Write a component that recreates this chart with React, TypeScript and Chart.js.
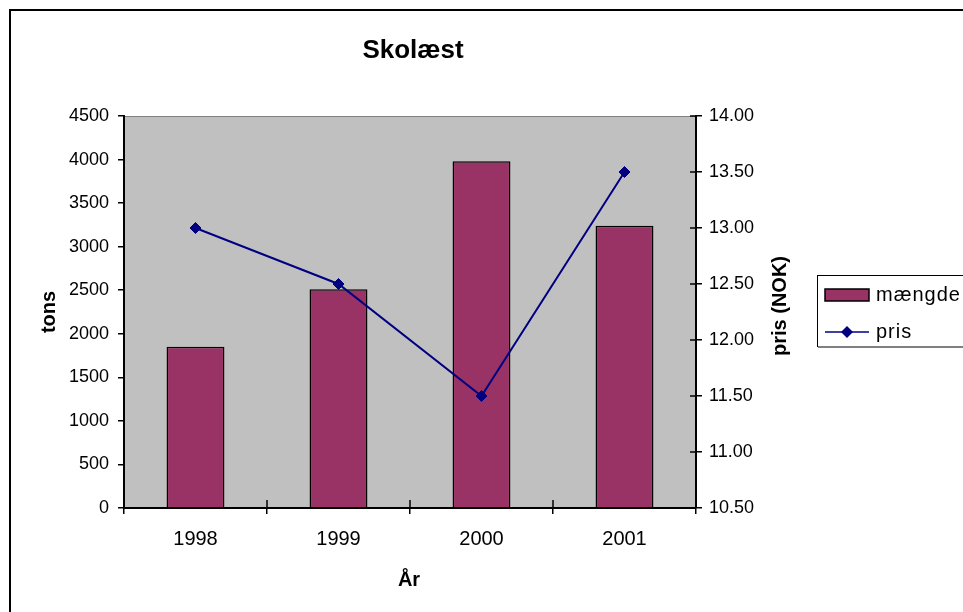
import React, { useEffect, useRef } from "react";
import { Chart, registerables } from "chart.js";

Chart.register(...registerables);

const years = ["1998", "1999", "2000", "2001"];
const maengde = [1850, 2510, 3980, 3240];
const pris = [13.0, 12.5, 11.5, 13.5];
const titleText = "Skolæst";
const xTitle = "År";
const yLeftTitle = "tons";
const yRightTitle = "pris (NOK)";
const legendLabels = ["mængde", "pris"];

const BAR = "#993366";
const LINE = "#000080";
const FONT = "'Liberation Sans', Arial, sans-serif";

const decorPlugin = {
  id: "decor",
  beforeDraw(chart: any) {
    const { ctx, chartArea: a, width, height } = chart;
    ctx.save();
    ctx.fillStyle = "#ffffff";
    ctx.fillRect(0, 0, width, height);
    ctx.strokeStyle = "#000";
    ctx.lineWidth = 2;
    ctx.strokeRect(10, 10, width + 20, height + 20);
    ctx.fillStyle = "#C0C0C0";
    ctx.fillRect(a.left, a.top, a.right - a.left, a.bottom - a.top);
    ctx.strokeStyle = "#808080";
    ctx.lineWidth = 1;
    ctx.strokeRect(a.left + 0.5, a.top + 0.5, a.right - a.left - 1, a.bottom - a.top - 1);
    ctx.restore();
  },
  afterDraw(chart: any) {
    const { ctx, chartArea: a } = chart;
    const yr = chart.scales.y1;
    ctx.save();
    ctx.strokeStyle = "#000";
    ctx.lineWidth = 1.5;
    ctx.beginPath();
    const n = years.length;
    for (let i = 0; i <= n; i++) {
      const px = a.left + ((a.right - a.left) * i) / n;
      ctx.moveTo(px, a.bottom);
      ctx.lineTo(px, a.bottom - 8);
    }
    yr.ticks.forEach((t: any) => {
      const py = yr.getPixelForValue(t.value);
      ctx.moveTo(a.right, py);
      ctx.lineTo(a.right - 6, py);
    });
    ctx.stroke();

    ctx.fillStyle = "#000";
    ctx.textBaseline = "alphabetic";
    ctx.textAlign = "center";
    ctx.font = `bold 26px ${FONT}`;
    ctx.fillText(titleText, 413, 58);
    ctx.font = `bold 20px ${FONT}`;
    ctx.fillText(xTitle, 409, 586);

    ctx.save();
    ctx.translate(55, 312);
    ctx.rotate(-Math.PI / 2);
    ctx.fillText(yLeftTitle, 0, 0);
    ctx.restore();

    ctx.save();
    ctx.translate(786, 306);
    ctx.rotate(-Math.PI / 2);
    ctx.fillText(yRightTitle, 0, 0);
    ctx.restore();

    // legend
    ctx.fillStyle = "#fff";
    ctx.fillRect(817, 275, 160, 72);
    ctx.strokeStyle = "#000";
    ctx.lineWidth = 1;
    ctx.strokeRect(817.5, 275.5, 160, 71);
    ctx.strokeStyle = "#808080";
    ctx.lineWidth = 2;
    ctx.beginPath();
    ctx.moveTo(818, 347);
    ctx.lineTo(963, 347);
    ctx.stroke();

    ctx.fillStyle = BAR;
    ctx.fillRect(825, 289, 44, 12);
    ctx.strokeStyle = "#000";
    ctx.lineWidth = 1.5;
    ctx.strokeRect(825, 289, 44, 12);

    ctx.strokeStyle = LINE;
    ctx.lineWidth = 1.5;
    ctx.beginPath();
    ctx.moveTo(825, 332);
    ctx.lineTo(869, 332);
    ctx.stroke();
    ctx.fillStyle = LINE;
    ctx.beginPath();
    ctx.moveTo(847, 326);
    ctx.lineTo(853, 332);
    ctx.lineTo(847, 338);
    ctx.lineTo(841, 332);
    ctx.closePath();
    ctx.fill();

    ctx.fillStyle = "#000";
    ctx.textAlign = "left";
    ctx.textBaseline = "middle";
    ctx.font = `20px ${FONT}`;
    try {
      (ctx as any).letterSpacing = "1px";
    } catch (e) {}
    ctx.fillText(legendLabels[0], 876, 295);
    ctx.fillText(legendLabels[1], 876, 332);
    try {
      (ctx as any).letterSpacing = "0px";
    } catch (e) {}
    ctx.restore();
  },
};

export default function App() {
  const ref = useRef<HTMLCanvasElement>(null);
  useEffect(() => {
    const canvas = ref.current!;
    const chart = new Chart(canvas, {
      type: "bar",
      data: {
        labels: years,
        datasets: [
          {
            type: "line",
            label: legendLabels[1],
            data: pris,
            yAxisID: "y1",
            borderColor: LINE,
            backgroundColor: LINE,
            borderWidth: 2,
            pointStyle: "rectRot",
            pointRadius: 5.5,
            pointBorderWidth: 1,
            pointBackgroundColor: LINE,
            pointBorderColor: LINE,
            tension: 0,
            order: 0,
          } as any,
          {
            type: "bar",
            label: legendLabels[0],
            data: maengde,
            yAxisID: "y",
            backgroundColor: BAR,
            borderColor: "#000",
            borderWidth: 1.5,
            categoryPercentage: 1,
            barPercentage: 0.405,
            order: 1,
          } as any,
        ],
      },
      options: {
        responsive: false,
        animation: false,
        devicePixelRatio: 1,
        layout: { padding: { left: 0, top: 116, right: 0, bottom: 0 } },
        plugins: {
          legend: { display: false },
          title: { display: false },
          tooltip: { enabled: false },
        },
        scales: {
          x: {
            offset: true,
            grid: {
              offset: true,
              drawOnChartArea: false,
              drawTicks: true,
              tickLength: 6,
              color: "#000",
              lineWidth: 1.5,
            },
            border: { display: true, color: "#000", width: 2 },
            ticks: {
              color: "#000",
              font: { family: FONT, size: 20 },
              padding: 13,
              maxRotation: 0,
            },
            afterFit: (s: any) => {
              s.height = 104;
            },
          },
          y: {
            position: "left",
            min: 0,
            max: 4500,
            ticks: {
              stepSize: 500,
              color: "#000",
              font: { family: FONT, size: 18 },
              padding: 9,
              callback: (v: any) => String(v),
            },
            grid: {
              drawOnChartArea: false,
              drawTicks: true,
              tickLength: 6,
              color: "#000",
              lineWidth: 1.5,
            },
            border: { display: true, color: "#000", width: 2 },
            afterFit: (s: any) => {
              s.width = 124;
            },
          },
          y1: {
            position: "right",
            min: 10.5,
            max: 14,
            ticks: {
              stepSize: 0.5,
              color: "#000",
              font: { family: FONT, size: 18 },
              padding: 7,
              callback: (v: any) => Number(v).toFixed(2),
            },
            grid: {
              drawOnChartArea: false,
              drawTicks: true,
              tickLength: 6,
              color: "#000",
              lineWidth: 1.5,
            },
            border: { display: true, color: "#000", width: 2 },
            afterFit: (s: any) => {
              s.width = 267;
            },
          },
        },
      },
      plugins: [decorPlugin],
    });
    return () => chart.destroy();
  }, []);
  return (
    <div style={{ position: "absolute", left: 0, top: 0, width: 963, height: 612 }}>
      <canvas ref={ref} width={963} height={612} style={{ display: "block" }} />
    </div>
  );
}
